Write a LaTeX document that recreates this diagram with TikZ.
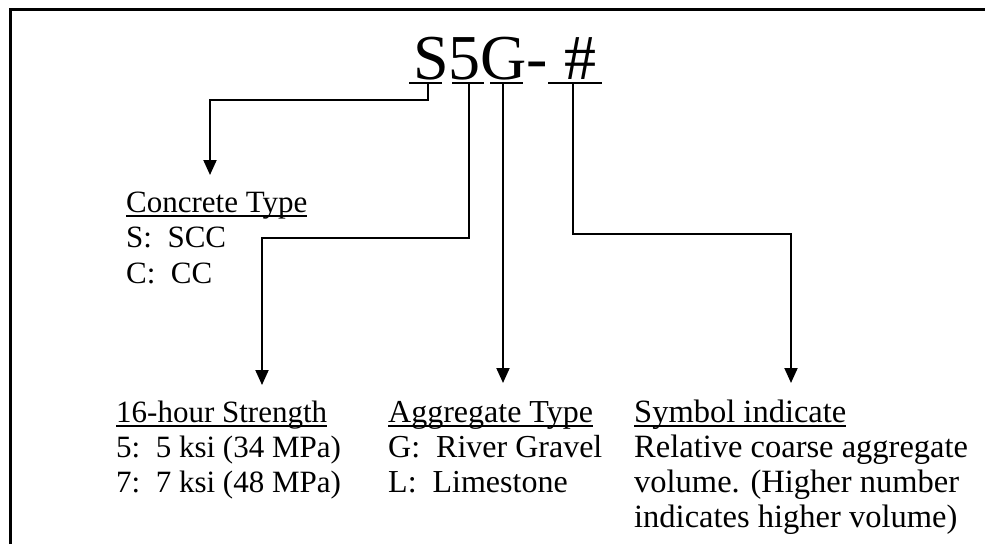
\documentclass[tikz,border=0pt]{standalone}
\usepackage{fontspec}
\setmainfont{Liberation Serif}
\usetikzlibrary{arrows.meta}
\newcommand\myul[1]{\leavevmode\setbox0\hbox{#1}\rlap{\rule[-5pt]{\wd0}{2pt}}\box0}
\begin{document}
\begin{tikzpicture}[x=1pt,y=-1pt,
  txt/.style={anchor=base west,inner sep=0pt,font=\fontsize{31}{35}\selectfont},
  txtb/.style={anchor=base west,inner sep=0pt,font=\fontsize{32}{35}\selectfont},
  txtc/.style={anchor=base west,inner sep=0pt,font=\fontsize{32.5}{35}\selectfont},
  ttl/.style={anchor=base west,inner sep=0pt,font=\fontsize{64}{70}\selectfont},
  ln/.style={line width=2.2pt},
  frame/.style={line width=3pt},
  arr/.style={line width=2pt,-{Triangle[width=13pt,length=15pt]}}]
\useasboundingbox (0,0) rectangle (985,544);
% frame (top and left only)
\draw[frame] (10,544) -- (10,9) -- (985,9);
% title
\node[ttl] (title) at (413,79) {S5G- \#};
% underlines
\coordinate (uS) at (428,83);
\coordinate (u5) at (469,83);
\coordinate (uG) at (503,83);
\coordinate (uH) at (573,83);
\draw[ln] (409,83) -- (442,83);
\draw[ln] (452,83) -- (484,83);
\draw[ln] (490,83) -- (523,83);
\draw[ln] (548,83) -- (602,83);
% text blocks
\node[txt] (ct) at (126,212) {\myul{Concrete Type}};
\node[txt] (ct1) at (126,247.5) {S:\ \ SCC};
\node[txt] (ct2) at (126,283) {C:\ \ CC};
\node[txt] (st) at (116,422) {\myul{16-hour Strength}};
\node[txt] (st1) at (116,457) {5:\ \ 5 ksi (34 MPa)};
\node[txt] (st2) at (116,492) {7:\ \ 7 ksi (48 MPa)};
\node[txtb] (ag) at (388,422) {\myul{Aggregate Type}};
\node[txtb] (ag1) at (388,457) {G:\ \ River Gravel};
\node[txtb] (ag2) at (388,492) {L:\ \ Limestone};
\node[txtc] (sy) at (634,422) {\myul{Symbol indicate}};
\node[txtc] (sy1) at (634,457) {Relative coarse aggregate};
\node[txtc] (sy2) at (634,492) {volume. (Higher number};
\node[txtc] (sy3) at (634,527) {indicates higher volume)};
% connector points
\coordinate (kS) at (428,100);
\coordinate (tC) at (210,175);
\coordinate (k5) at (469,238);
\coordinate (tS) at (262,385);
\coordinate (tG) at (503,383);
\coordinate (kH) at (573,234);
\coordinate (tH) at (791,383);
\draw[arr] (uS) -- (kS) -| (tC);
\draw[arr] (u5) -- (k5) -| (tS);
\draw[arr] (uG) -- (tG);
\draw[arr] (uH) -- (kH) -| (tH);
\end{tikzpicture}
\end{document}
